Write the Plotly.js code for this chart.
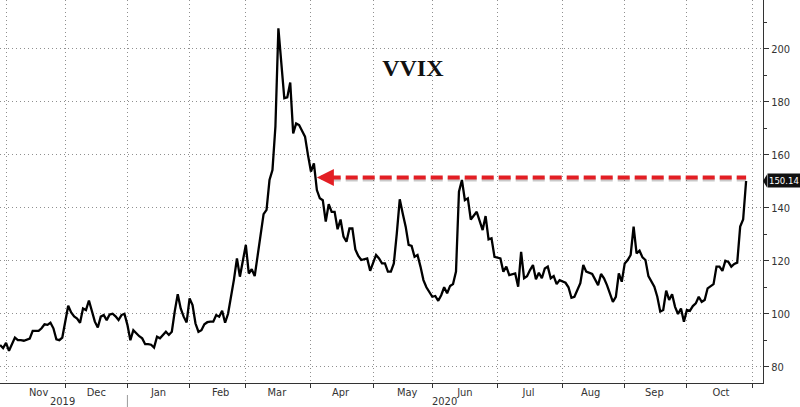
<!DOCTYPE html>
<html><head><meta charset="utf-8">
<script src="https://cdn.plot.ly/plotly-3.0.1.min.js"></script>
<style>html,body{margin:0;padding:0;background:#fff}#chart{width:800px;height:407px}</style>
</head><body><div id="chart"></div>
<script>
const dates = [
'2019-10-30','2019-10-31','2019-11-01','2019-11-04','2019-11-06','2019-11-07','2019-11-08','2019-11-11','2019-11-13','2019-11-14',
'2019-11-18','2019-11-19','2019-11-20','2019-11-21','2019-11-22','2019-11-25','2019-11-26','2019-11-27','2019-11-29',
'2019-12-02','2019-12-03','2019-12-04','2019-12-05','2019-12-06','2019-12-09','2019-12-10','2019-12-11','2019-12-12','2019-12-13',
'2019-12-16','2019-12-17','2019-12-18','2019-12-19','2019-12-20','2019-12-23','2019-12-24','2019-12-26','2019-12-27','2019-12-30','2019-12-31',
'2020-01-02','2020-01-03','2020-01-06','2020-01-07','2020-01-08','2020-01-09','2020-01-10','2020-01-13','2020-01-14','2020-01-15',
'2020-01-16','2020-01-17','2020-01-21','2020-01-22','2020-01-23','2020-01-24','2020-01-27','2020-01-28','2020-01-29','2020-01-30','2020-01-31',
'2020-02-03','2020-02-04','2020-02-05','2020-02-06','2020-02-07','2020-02-10','2020-02-11','2020-02-12','2020-02-13','2020-02-14',
'2020-02-18','2020-02-19','2020-02-20','2020-02-21','2020-02-24','2020-02-25','2020-02-26','2020-02-27','2020-02-28',
'2020-03-02','2020-03-03','2020-03-04','2020-03-05','2020-03-06','2020-03-09','2020-03-10','2020-03-11','2020-03-12','2020-03-13',
'2020-03-16','2020-03-17','2020-03-19','2020-03-20','2020-03-23','2020-03-24','2020-03-25','2020-03-26','2020-03-27','2020-03-30','2020-03-31',
'2020-04-01','2020-04-02','2020-04-03','2020-04-06','2020-04-07','2020-04-08','2020-04-09','2020-04-13','2020-04-14','2020-04-15',
'2020-04-16','2020-04-17','2020-04-20','2020-04-21','2020-04-22','2020-04-23','2020-04-24','2020-04-27','2020-04-29','2020-04-30',
'2020-05-01','2020-05-04','2020-05-05','2020-05-06','2020-05-07','2020-05-08','2020-05-11','2020-05-12','2020-05-13','2020-05-14',
'2020-05-15','2020-05-18','2020-05-19','2020-05-20','2020-05-21','2020-05-22','2020-05-26','2020-05-27','2020-05-28',
'2020-06-01','2020-06-02','2020-06-03','2020-06-04','2020-06-05','2020-06-08','2020-06-09','2020-06-10','2020-06-11','2020-06-12',
'2020-06-15','2020-06-16','2020-06-17','2020-06-18','2020-06-22','2020-06-24','2020-06-25','2020-06-26','2020-06-29','2020-06-30',
'2020-07-02','2020-07-06','2020-07-07','2020-07-08','2020-07-10','2020-07-13','2020-07-14','2020-07-15','2020-07-16','2020-07-17',
'2020-07-20','2020-07-21','2020-07-22','2020-07-23','2020-07-24','2020-07-27','2020-07-28','2020-07-29','2020-07-30','2020-07-31',
'2020-08-04','2020-08-05','2020-08-06','2020-08-07','2020-08-11','2020-08-12','2020-08-13','2020-08-17','2020-08-19','2020-08-20',
'2020-08-21','2020-08-24','2020-08-26','2020-08-27','2020-08-28','2020-08-31',
'2020-09-01','2020-09-02','2020-09-03','2020-09-04','2020-09-08','2020-09-09','2020-09-10','2020-09-11','2020-09-14','2020-09-16',
'2020-09-17','2020-09-18','2020-09-21','2020-09-22','2020-09-23','2020-09-24','2020-09-25','2020-09-28','2020-09-29','2020-09-30',
'2020-10-01','2020-10-02','2020-10-05','2020-10-06','2020-10-07','2020-10-08','2020-10-09','2020-10-12','2020-10-14','2020-10-15',
'2020-10-16','2020-10-19','2020-10-20','2020-10-21','2020-10-22','2020-10-23','2020-10-26','2020-10-27','2020-10-28','2020-10-29'
];
const vvix = [
88.2,87,89,86,91,90,90,89.8,90.6,93.5,
93.5,94.5,96,95.8,96.6,94.5,90.3,90,91,
97.6,103,100.5,99,98.2,96.6,102,101.4,105,100.8,
97,94.8,98.9,99.5,97.6,99.7,100,99,97.6,99.5,100,
95.8,90,93.8,92.6,91.5,90.7,88.5,88.5,88.3,87.2,
91.3,90.7,92,93.2,92,93.2,101,107.4,102,98.9,96.7,
105.8,103.3,96.3,93.2,93.8,96,96.8,97,97,99.5,
98.9,101.1,96.6,100,105.8,113,120.9,114,120,
126,115.2,116.8,114.2,121.5,130,137.6,139.2,150.5,154.3,
170.7,207.8,181.4,181.7,187.3,168.1,171.9,171.3,168.8,166.9,159.9,
153.7,156.8,146.7,143.6,142.9,134.8,141.4,138.5,138.5,131.9,
135.6,129.1,127.2,132.2,132.2,124.3,121.8,120.3,120.9,116.2,
119,122.2,120.9,119,119,115.9,115.9,119,130.3,143.2,
137.9,132.9,126,125.6,121.5,122.2,117.8,112.7,110,
106.4,106.7,104.9,107,110,107.7,110.5,111.2,115.9,146.1,
150.5,142.9,143.6,135.6,138.5,131.6,136.9,128.1,128.5,121.5,
120.9,115.9,117.8,114.6,115.2,110.2,123.4,113.4,114.2,116.5,
118.4,113,115.5,113.4,117.1,117.8,113.4,114.2,111.2,112.7,
111.7,110,106,106.4,111.5,118.4,115.9,115,110.8,115,
113.4,110.8,104.5,106.4,115.2,112.1,
119,120.3,122.2,132.9,122.8,123.8,121.3,120.3,114.2,110.2,
106.4,100.8,101.4,108.7,105.2,107.4,102.6,99.9,102,97,
101.4,101.1,102.9,103.9,106.4,104.5,105.2,109.6,111.2,117.8,
117.8,116.2,120,119.6,117.8,118.8,119.3,132.9,135.6,150.14
];
const marketHolidays = ['2019-11-28','2019-12-25','2020-01-01','2020-01-20','2020-02-17','2020-04-10','2020-05-25','2020-07-03','2020-09-07'];
const chartTitle = 'VVIX';
const lastValue = vvix[vvix.length - 1];
const arrowLevel = 151.5;
const arrowTip = '2020-04-03';
const arrowTail = '2020-04-09';
const arrowEnd = '2020-10-29';
const yearLabels = ['2019', '2020'];
const yearLabelDates = ['2019-11-29', '2020-06-05'];
const yearSplitDate = '2020-01-02';

const FONT = 'Liberation Sans Narrow, DejaVu Sans Condensed, Arial Narrow, sans-serif';
const RED = '#e31e24';
const GRID = '#8f8f8f';

const trace = {
  type: 'scatter', mode: 'lines', x: dates, y: vvix,
  line: {color: '#000', width: 2.3}, hoverinfo: 'skip', showlegend: false
};

const shapes = [
  {type: 'line', xref: 'x', yref: 'y', x0: arrowTail, x1: arrowEnd, y0: arrowLevel - 0.8, y1: arrowLevel - 0.8,
   line: {color: 'rgba(60,60,60,0.28)', width: 4, dash: '12px,5px'}},
  {type: 'line', xref: 'x', yref: 'y', x0: arrowTail, x1: arrowEnd, y0: arrowLevel, y1: arrowLevel,
   line: {color: RED, width: 4, dash: '12px,5px'}},
  {type: 'path', xref: 'paper', yref: 'y', xsizemode: 'pixel', ysizemode: 'pixel', xanchor: 1, yanchor: lastValue,
   path: 'M0,0 L4,6.5 L4,-6.5 Z', fillcolor: '#111', line: {width: 0}},
  {type: 'line', xref: 'x', yref: 'paper', ysizemode: 'pixel', yanchor: 0, x0: yearSplitDate, x1: yearSplitDate, y0: -12, y1: -26,
   line: {color: '#9a9a9a', width: 1}}
];

const annotations = [
  {xref: 'x', yref: 'y', x: arrowTip, y: arrowLevel, axref: 'x', ayref: 'y', ax: arrowTail, ay: arrowLevel,
   text: '', showarrow: true, arrowhead: 2, arrowsize: 0.85, arrowwidth: 4, arrowcolor: RED},
  {xref: 'paper', yref: 'y', x: 1, y: lastValue, xanchor: 'left', yanchor: 'middle', xshift: 4,
   text: lastValue.toFixed(2), showarrow: false, bgcolor: '#111', borderpad: 1,
   font: {family: FONT, size: 9.5, color: '#fff'}}
];
yearLabels.forEach((t, i) => annotations.push({
  xref: 'x', yref: 'paper', x: yearLabelDates[i], y: 0, yanchor: 'top', yshift: -10,
  text: t, showarrow: false, font: {family: FONT, size: 11, color: '#333'}
}));

const layout = {
  width: 800, height: 407,
  margin: {l: 0, r: 37, t: 0, b: 24, pad: 0},
  paper_bgcolor: '#fff', plot_bgcolor: '#fff',
  title: {text: '<b>' + chartTitle + '</b>', font: {family: 'Liberation Serif, Times New Roman, serif', size: 24, color: '#111'},
          xref: 'container', yref: 'container', x: 0.516, xanchor: 'center', y: 0.835, yanchor: 'middle'},
  xaxis: {
    type: 'date', range: ['2019-10-29 23:00', '2020-11-05 17:00'],
    rangebreaks: [{bounds: ['sat', 'mon']}, {values: marketHolidays}],
    tick0: '2019-11-01', dtick: 'M1', tickformat: '%b', ticklabelmode: 'period',
    ticks: 'outside', ticklen: 4, tickcolor: '#333', tickwidth: 1,
    ticklabelstandoff: -5,
    showgrid: true, gridcolor: GRID, griddash: '1px,3px', gridwidth: 1,
    showline: true, linecolor: '#333', linewidth: 1, zeroline: false,
    tickfont: {family: FONT, size: 11, color: '#333'}, fixedrange: true
  },
  yaxis: {
    side: 'right', range: [73.84, 218.5], tick0: 0, dtick: 20,
    ticks: 'outside', ticklen: 5, tickcolor: '#333', tickwidth: 1,
    minor: {dtick: 10, ticks: 'outside', ticklen: 3, tickcolor: '#333', showgrid: false},
    showgrid: true, gridcolor: GRID, griddash: '1px,3px', gridwidth: 1,
    showline: true, linecolor: '#333', linewidth: 1, zeroline: false,
    tickfont: {family: FONT, size: 11, color: '#333'}, fixedrange: true
  },
  shapes: shapes,
  annotations: annotations
};

Plotly.newPlot('chart', [trace], layout, {staticPlot: true, displayModeBar: false});
</script>
</body></html>
